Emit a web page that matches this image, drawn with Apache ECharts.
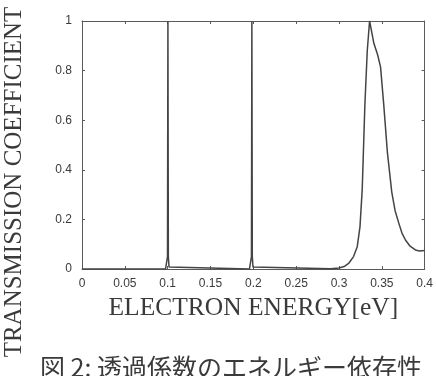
<!DOCTYPE html>
<html>
<head>
<meta charset="utf-8">
<script src="https://cdn.jsdelivr.net/npm/echarts@6/dist/echarts.min.js"></script>
<style>
  html, body { margin: 0; padding: 0; background: #ffffff; }
  #chart { width: 436px; height: 376px; }
</style>
</head>
<body>
<div id="chart"></div>
<script>
// Electron energy (eV) and transmission coefficient samples
const energy = [
  0, 0.0975, 0.099, 0.0998, 0.1003, 0.1008, 0.1016, 0.103,
  0.1955, 0.197, 0.1978, 0.1983, 0.1988, 0.1996, 0.201, 0.29, 0.3,
  0.306, 0.3116, 0.317, 0.3213, 0.3245, 0.3271, 0.3302, 0.333,
  0.3357, 0.3385, 0.3407, 0.345, 0.3485, 0.3523, 0.3565, 0.3616,
  0.3655, 0.3698, 0.3735, 0.3776, 0.383, 0.3892, 0.394, 0.4
];
const transmission = [
  0, 0, 0.008, 0.05, 1.0, 0.05, 0.008, 0,
  0, 0.008, 0.05, 1.0, 0.05, 0.008, 0, 0.001, 0.004,
  0.01, 0.024, 0.05, 0.09, 0.17, 0.32, 0.66, 0.88,
  1.0, 0.95, 0.91, 0.865, 0.815, 0.66, 0.47, 0.31,
  0.235, 0.185, 0.145, 0.117, 0.092, 0.077, 0.073, 0.075
];
const xTickLabels = ['0', '0.05', '0.1', '0.15', '0.2', '0.25', '0.3', '0.35', '0.4'];
const yTickLabels = ['0', '0.2', '0.4', '0.6', '0.8', '1'];

const xTitle = 'ELECTRON ENERGY[eV]';
const yTitle = 'TRANSMISSION COEFFICIENT';
const caption = '図 2: 透過係数のエネルギー依存性';

const axisColor = '#5a5a5a';
const serif = '"Liberation Serif", "DejaVu Serif", serif';
const sans = 'Arial, "Liberation Sans", sans-serif';

const points = energy.map((e, i) => [e, transmission[i]]);

const chart = echarts.init(document.getElementById('chart'), null, { renderer: 'canvas' });

const boxAxis = (extra) => Object.assign({
  type: 'value',
  axisLine: { show: true, onZero: false, lineStyle: { color: axisColor, width: 1 } },
  axisTick: { show: true, inside: true, length: 3, lineStyle: { color: axisColor } },
  splitLine: { show: false }
}, extra);

chart.setOption({
  animation: false,
  backgroundColor: '#ffffff',
  grid: { left: 82, right: 11, top: 21, bottom: 107 },
  xAxis: [
    boxAxis({
      min: 0, max: 0.4, interval: 0.05, position: 'bottom',
      axisLabel: {
        color: '#3a3a3a', fontSize: 12, fontFamily: sans, margin: 9,
        formatter: (v) => xTickLabels[Math.round(v / 0.05)]
      },
      name: xTitle, nameLocation: 'middle', nameGap: 22,
      nameTextStyle: { fontFamily: serif, fontSize: 25.5, color: '#3a3a3a' }
    }),
    boxAxis({ min: 0, max: 0.4, interval: 0.05, position: 'top', axisLabel: { show: false } })
  ],
  yAxis: [
    boxAxis({
      min: 0, max: 1, interval: 0.2, position: 'left',
      axisLabel: {
        color: '#3a3a3a', fontSize: 12, fontFamily: sans, margin: 10,
        formatter: (v) => yTickLabels[Math.round(v / 0.2)]
      }
    }),
    boxAxis({ min: 0, max: 1, interval: 0.2, position: 'right', axisLabel: { show: false } })
  ],
  series: [{
    type: 'line',
    data: points,
    showSymbol: false,
    smooth: false,
    clip: true,
    lineStyle: { color: '#444444', width: 1.5 }
  }],
  graphic: [
    {
      type: 'text', x: 14, y: 182, rotation: Math.PI / 2,
      style: {
        text: yTitle, fill: '#3a3a3a', font: '25px ' + serif,
        textAlign: 'center', textVerticalAlign: 'middle'
      }
    },
    {
      type: 'text', x: 40, y: 367,
      style: {
        text: caption, fill: '#3a3a3a', font: '25px "Noto Sans CJK JP"',
        textAlign: 'left', textVerticalAlign: 'middle'
      }
    }
  ]
});
</script>
</body>
</html>
